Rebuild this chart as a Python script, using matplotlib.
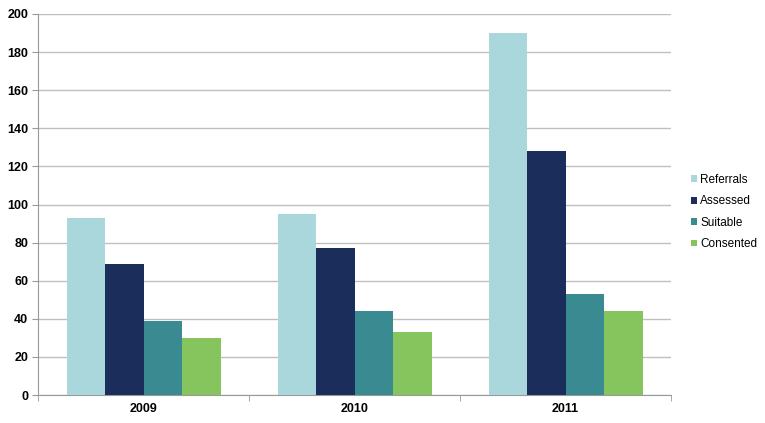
import numpy as np
import matplotlib.pyplot as plt

plt.rcParams['font.family'] = ['Liberation Sans', 'DejaVu Sans']

# data
years = ['2009', '2010', '2011']
series = ['Referrals', 'Assessed', 'Suitable', 'Consented']
referrals = [93, 95, 190]
assessed = [69, 77, 128]
suitable = [39, 44, 53]
consented = [30, 33, 44]
colors = ['#A9D7DC', '#1B2D5A', '#3A8A92', '#86C55E']

values = [referrals, assessed, suitable, consented]

fig = plt.figure(figsize=(7.65, 4.23), dpi=100)
ax = fig.add_axes([0.0497, 0.066, 0.8275, 0.901])

x = np.arange(len(years))
width = 0.73 / len(series)
for i in range(len(series)):
    offset = (i - 1.5) * width
    ax.bar(x + offset, values[i], width, color=colors[i], label=series[i], zorder=3)

ax.set_xlim(-0.5, 2.5)
ax.set_ylim(0, 200)
ax.set_yticks(np.arange(0, 201, 20))
ax.set_xticks(x)
ax.set_xticklabels(years, fontsize=9, fontweight='bold')
for lbl in ax.get_yticklabels():
    lbl.set_fontsize(9)
    lbl.set_fontweight('bold')

# minor ticks at category boundaries on x axis
ax.set_xticks([-0.5, 0.5, 1.5, 2.5], minor=True)
ax.tick_params(axis='x', which='major', length=0, pad=6)
ax.tick_params(axis='x', which='minor', length=4, color='#999999', direction='out')
ax.tick_params(axis='y', length=4, color='#999999', pad=3)

ax.grid(axis='y', color='#BFBFBF', linewidth=1, zorder=0)
ax.spines['top'].set_visible(False)
ax.spines['right'].set_visible(False)
ax.spines['left'].set_color('#999999')
ax.spines['bottom'].set_color('#999999')

ax.legend(loc='center left', bbox_to_anchor=(1.015, 0.48), frameon=False,
          fontsize=8.5, handlelength=0.5, handleheight=0.5, handletextpad=0.25,
          labelspacing=0.8)

plt.savefig('out.png', dpi=100)
